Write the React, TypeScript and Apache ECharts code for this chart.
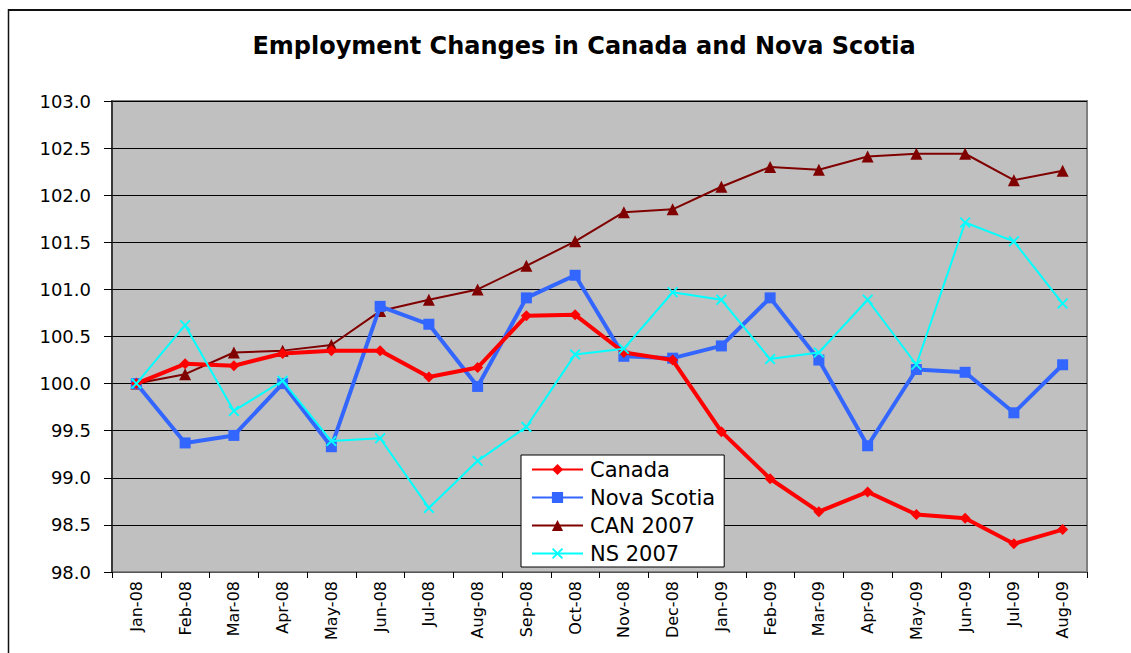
import React, { useEffect, useRef } from "react";
import * as echarts from "echarts";

const categories = [
  "Jan-08", "Feb-08", "Mar-08", "Apr-08", "May-08", "Jun-08", "Jul-08", "Aug-08", "Sep-08", "Oct-08",
  "Nov-08", "Dec-08", "Jan-09", "Feb-09", "Mar-09", "Apr-09", "May-09", "Jun-09", "Jul-09", "Aug-09",
];

const canada = [100.0, 100.21, 100.19, 100.32, 100.35, 100.35, 100.07, 100.17, 100.72, 100.73,
  100.33, 100.25, 99.49, 98.99, 98.64, 98.85, 98.61, 98.57, 98.30, 98.45];

const novaScotia = [100.0, 99.37, 99.45, 100.0, 99.33, 100.82, 100.63, 99.97, 100.91, 101.15,
  100.29, 100.27, 100.40, 100.91, 100.25, 99.34, 100.15, 100.12, 99.69, 100.20];

const can2007 = [100.0, 100.10, 100.33, 100.35, 100.41, 100.77, 100.89, 101.0, 101.25, 101.51,
  101.82, 101.85, 102.09, 102.30, 102.27, 102.41, 102.44, 102.44, 102.16, 102.26];

const ns2007 = [100.0, 100.62, 99.71, 100.03, 99.39, 99.42, 98.68, 99.18, 99.54, 100.31,
  100.37, 100.97, 100.89, 100.26, 100.33, 100.89, 100.20, 101.71, 101.51, 100.85];

const yTicks = { min: 98, max: 103, step: 0.5 };

const crossSymbol =
  "path://M0,1.2 L1.2,0 L5,3.8 L8.8,0 L10,1.2 L6.2,5 L10,8.8 L8.8,10 L5,6.2 L1.2,10 L0,8.8 L3.8,5 Z";

export default function App() {
  const ref = useRef<HTMLDivElement>(null);

  useEffect(() => {
    if (!ref.current) return;
    const chart = echarts.init(ref.current, undefined, { renderer: "svg" });
    const font = "'DejaVu Sans', Verdana, sans-serif";
    chart.setOption({
      animation: false,
      backgroundColor: "#ffffff",
      textStyle: { fontFamily: font },
      title: {
        text: "Employment Changes in Canada and Nova Scotia",
        left: 579,
        textAlign: "center",
        top: 29,
        textStyle: { fontSize: 24, fontWeight: "bold", color: "#000", fontFamily: font },
      },
      graphic: [
        { type: "line", shape: { x1: 8, y1: 10, x2: 1131, y2: 10 }, style: { stroke: "#111", lineWidth: 2 } },
        { type: "line", shape: { x1: 8.5, y1: 9, x2: 8.5, y2: 653 }, style: { stroke: "#111", lineWidth: 1.5 } },
      ],
      legend: {
        orient: "vertical",
        left: 521,
        top: 455,
        itemWidth: 51,
        itemHeight: 14,
        itemGap: 7,
        padding: [4, 9, 3, 10],
        backgroundColor: "#ffffff",
        borderColor: "#000",
        borderWidth: 1,
        textStyle: { fontSize: 21, color: "#000", fontFamily: font, padding: [0, 0, 0, 2] },
        data: ["Canada", "Nova Scotia", "CAN 2007", "NS 2007"],
      },
      grid: {
        left: 112,
        top: 101,
        right: 44,
        bottom: 81,
        show: true,
        backgroundColor: "#C0C0C0",
        borderColor: "#808080",
        borderWidth: 2,
      },
      xAxis: {
        type: "category",
        data: categories,
        boundaryGap: true,
        axisLine: { show: true, lineStyle: { color: "#555", width: 1 } },
        axisTick: { show: true, length: 6, lineStyle: { color: "#000" }, alignWithLabel: false },
        axisLabel: { rotate: 90, fontSize: 16, color: "#000", margin: 9, interval: 0, fontFamily: font },
        splitLine: { show: false },
      },
      yAxis: {
        type: "value",
        min: yTicks.min,
        max: yTicks.max,
        interval: yTicks.step,
        axisLine: { show: true, lineStyle: { color: "#222", width: 1.5 } },
        axisTick: { show: true, length: 8, lineStyle: { color: "#000" } },
        axisLabel: {
          fontSize: 18,
          color: "#000",
          margin: 21,
          fontFamily: font,
          formatter: (v: number) => v.toFixed(1),
        },
        splitLine: { show: true, lineStyle: { color: "#000", width: 1 } },
      },
      series: [
        {
          name: "Canada",
          type: "line",
          data: canada,
          symbol: "diamond",
          symbolSize: 11,
          lineStyle: { color: "#FF0000", width: 4 },
          itemStyle: { color: "#FF0000" },
          z: 4,
        },
        {
          name: "Nova Scotia",
          type: "line",
          data: novaScotia,
          symbol: "rect",
          symbolSize: 11,
          lineStyle: { color: "#3366FF", width: 4 },
          itemStyle: { color: "#3366FF" },
          z: 3,
        },
        {
          name: "CAN 2007",
          type: "line",
          data: can2007,
          symbol: "triangle",
          symbolSize: 12,
          lineStyle: { color: "#800000", width: 2 },
          itemStyle: { color: "#800000" },
          z: 2,
        },
        {
          name: "NS 2007",
          type: "line",
          data: ns2007,
          symbol: crossSymbol,
          symbolSize: 11,
          lineStyle: { color: "#00FFFF", width: 2 },
          itemStyle: { color: "#00FFFF" },
          z: 5,
        },
      ],
    });
    return () => chart.dispose();
  }, []);

  return (
    <div
      ref={ref}
      style={{ position: "absolute", left: 0, top: 0, width: 1131, height: 653 }}
    />
  );
}
